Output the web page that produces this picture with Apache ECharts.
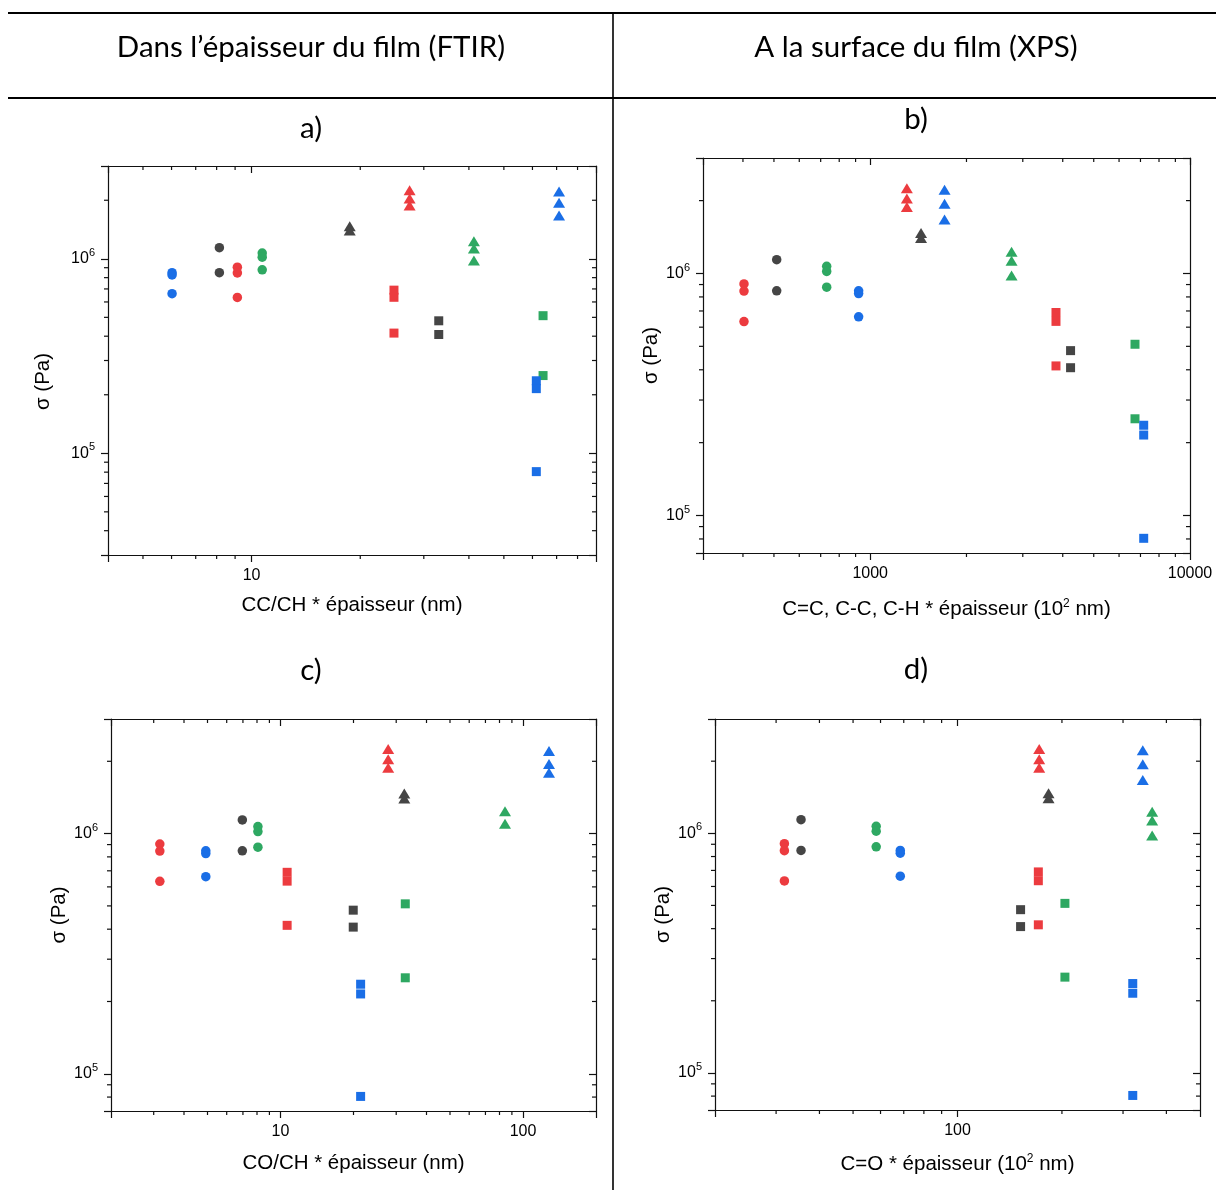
<!DOCTYPE html>
<html>
<head>
<meta charset="utf-8">
<script src="https://cdn.jsdelivr.net/npm/echarts@6/dist/echarts.min.js"></script>
<style>
html,body{margin:0;padding:0;background:#fff;}
#chart{width:1216px;height:1190px;}
</style>
</head>
<body>
<div id="chart"></div>
<script>
// ---------- DATA ----------
// Group order: red●, grey●, green●, blue●, red▲, grey▲, green▲, blue▲, red■, grey■, green■, blue■
const groupOrder = ['redCircle','grayCircle','greenCircle','blueCircle',
                    'redTriangle','grayTriangle','greenTriangle','blueTriangle',
                    'redSquare','graySquare','greenSquare','blueSquare'];

// σ (Pa) per group
const sigmaRedCircle     = [0.905e6, 0.846e6, 0.633e6];
const sigmaGrayCircle    = [1.14e6, 0.848e6];
const sigmaGreenCircle   = [1.07e6, 1.02e6, 0.878e6];
const sigmaBlueCircle    = [0.848e6, 0.826e6, 0.662e6];
const sigmaRedTriangle   = [2.25e6, 2.04e6, 1.88e6];
const sigmaGrayTriangle  = [1.47e6, 1.40e6];
const sigmaGreenTriangle = [1.23e6, 1.13e6, 0.98e6];
const sigmaBlueTriangle  = [2.22e6, 1.94e6, 1.67e6];
const sigmaRedSquare     = [0.69e6, 0.634e6, 0.415e6];
const sigmaGraySquare    = [0.48e6, 0.408e6];
const sigmaGreenSquare   = [0.51e6, 0.251e6];
const sigmaBlueSquare    = [0.236e6, 0.215e6, 0.0805e6];
// panel c shows slightly different triangle values
const sigmaGreenTriangleC = [1.24e6, 1.10e6];
const sigmaBlueTriangleC  = [2.21e6, 1.95e6, 1.79e6];

// x value of each group, per panel (same group order)
const xPanelA = [9.13, 8.14, 10.7, 6.02, 27.4, 18.7, 41.3, 71.1, 24.8, 33.0, 64.2, 61.5];          // CC/CH * épaisseur (nm)
const xPanelB = [403, 510, 731, 920, 1302, 1442, 2767, 1708, 3810, 4232, 6730, 7165];            // C=C, C-C, C-H * épaisseur (10² nm)
const xPanelC = [3.18, 6.96, 8.07, 4.92, 27.8, 32.4, 84.3, 128, 10.65, 19.95, 32.7, 21.4];        // CO/CH * épaisseur (nm)
const xPanelD = [31.7, 35.4, 58.3, 68.4, 172, 183, 364, 342, 171, 152, 204, 320];                  // C=O * épaisseur (10² nm)

// axis ranges
const xRangeA = [4, 90],     yRangeA = [3e4, 3e6];
const xRangeB = [300, 10000], yRangeB = [7e4, 3e6];
const xRangeC = [2, 200],    yRangeC = [7e4, 3e6];
const xRangeD = [20, 500],   yRangeD = [7e4, 3e6];

// minor tick values
const minorXA = [5,6,7,8,9,20,30,40,50,60,70,80];
const minorYA = [4e4,5e4,6e4,7e4,8e4,9e4,2e5,3e5,4e5,5e5,6e5,7e5,8e5,9e5,2e6];
const minorXB = [400,500,600,700,800,900,2000,3000,4000,5000,6000,7000,8000,9000];
const minorYB = [8e4,9e4,2e5,3e5,4e5,5e5,6e5,7e5,8e5,9e5,2e6];
const minorXC = [3,4,5,6,7,8,9,20,30,40,50,60,70,80,90];
const minorYC = minorYB;
const minorXD = [30,40,50,60,70,80,90,200,300,400];
const minorYD = minorYB;

// texts
const headerLeft  = 'Dans l’épaisseur du film (FTIR)';
const headerRight = 'A la surface du film (XPS)';
const panelLetters = ['a)', 'b)', 'c)', 'd)'];
const xTitles = ['CC/CH * épaisseur (nm)',
                 'C=C, C-C, C-H * épaisseur (10{sup|2} nm)',
                 'CO/CH * épaisseur (nm)',
                 'C=O * épaisseur (10{sup|2} nm)'];
const yTitle = 'σ (Pa)';

// ---------- STYLE ----------
const groupColor = {red:'#ec3b3f', gray:'#454545', green:'#2ea862', blue:'#1a6ee6'};
const groupStyle = groupOrder.map(g => {
  const color = g.startsWith('red') ? groupColor.red : g.startsWith('gray') ? groupColor.gray :
                g.startsWith('green') ? groupColor.green : groupColor.blue;
  if (g.endsWith('Circle')) return {color, symbol:'circle', size:9.5};
  if (g.endsWith('Triangle')) return {color, symbol:'triangle', size:[12,10]};
  return {color, symbol:'rect', size:9};
});
const AX = '#111';
const AXF = 'Liberation Sans, Arial, sans-serif';
const TITLEF = 'Lato, sans-serif';
const TITLE_SIZE = 29.5;
const NAME_SIZE = 20.5;
const TICK_SIZE = 16;

const grids = [
  {left:108, top:166, width:488, height:389},
  {left:703, top:158, width:487, height:395},
  {left:111, top:719, width:485, height:392},
  {left:715, top:719, width:485, height:391}
];
const xNameGap = [39, 45, 41, 43];
const yNameGap = [54, 40, 41, 39];
const yNamePad = [[0,42,0,0], [0,0,0,0], [0,0,0,0], [0,0,0,0]];

const xRanges = [xRangeA, xRangeB, xRangeC, xRangeD];
const yRanges = [yRangeA, yRangeB, yRangeC, yRangeD];
const minorXs = [minorXA, minorXB, minorXC, minorXD];
const minorYs = [minorYA, minorYB, minorYC, minorYD];
const xPanels = [xPanelA, xPanelB, xPanelC, xPanelD];
const sigmaShared = [sigmaRedCircle, sigmaGrayCircle, sigmaGreenCircle, sigmaBlueCircle,
                     sigmaRedTriangle, sigmaGrayTriangle, sigmaGreenTriangle, sigmaBlueTriangle,
                     sigmaRedSquare, sigmaGraySquare, sigmaGreenSquare, sigmaBlueSquare];
const sigmaPanelC = sigmaShared.slice();
sigmaPanelC[6] = sigmaGreenTriangleC;
sigmaPanelC[7] = sigmaBlueTriangleC;
const sigmaPanels = [sigmaShared, sigmaShared, sigmaPanelC, sigmaShared];

function isDecade(v){ const l = Math.log10(v); return Math.abs(l - Math.round(l)) < 1e-6; }

const xAxes = [], yAxes = [], series = [];
grids.forEach((g, i) => {
  const lineStyle = {color: AX, width: 1.2};
  xAxes.push({
    type:'log', logBase:10, gridIndex:i, position:'bottom',
    min:xRanges[i][0], max:xRanges[i][1],
    name:xTitles[i], nameLocation:'middle', nameGap:xNameGap[i],
    nameTextStyle:{fontFamily:AXF, fontSize:NAME_SIZE, color:'#000', lineHeight:23,
      rich:{sup:{fontFamily:AXF, fontSize:12, color:'#000', verticalAlign:'top', lineHeight:12}}},
    axisLine:{show:true, onZero:false, lineStyle},
    axisTick:{show:true, inside:false, length:7, lineStyle},
    minorTick:{show:false}, splitLine:{show:false},
    axisLabel:{show:true, margin:13, fontFamily:AXF, fontSize:TICK_SIZE, color:'#000',
      showMinLabel:true, showMaxLabel:true,
      formatter: v => isDecade(v) ? String(Math.round(v)) : ''}
  });
  xAxes.push({
    type:'log', logBase:10, gridIndex:i, position:'top',
    min:xRanges[i][0], max:xRanges[i][1],
    axisLine:{show:true, onZero:false, lineStyle},
    axisTick:{show:true, inside:true, length:7, lineStyle},
    axisLabel:{show:false}, splitLine:{show:false}
  });
  yAxes.push({
    type:'log', logBase:10, gridIndex:i, position:'left',
    min:yRanges[i][0], max:yRanges[i][1],
    name:yTitle, nameLocation:'middle', nameGap:yNameGap[i],
    nameTextStyle:{fontFamily:AXF, fontSize:NAME_SIZE, color:'#000', padding:yNamePad[i]},
    axisLine:{show:true, onZero:false, lineStyle},
    axisTick:{show:true, inside:false, length:7, lineStyle},
    minorTick:{show:false}, splitLine:{show:false},
    axisLabel:{show:true, margin:13, color:'#000',
      formatter: v => isDecade(v) ? '{b|10}{s|' + Math.round(Math.log10(v)) + '}' : '',
      rich:{b:{fontFamily:AXF, fontSize:TICK_SIZE, color:'#000', lineHeight:23},
            s:{fontFamily:AXF, fontSize:11, color:'#000', verticalAlign:'top', lineHeight:12}}}
  });
  yAxes.push({
    type:'log', logBase:10, gridIndex:i, position:'right',
    min:yRanges[i][0], max:yRanges[i][1],
    axisLine:{show:true, onZero:false, lineStyle},
    axisTick:{show:true, inside:true, length:7, lineStyle},
    axisLabel:{show:false}, splitLine:{show:false}
  });

  // minor ticks (drawn through the axes' scales)
  series.push({
    type:'custom', xAxisIndex:2*i, yAxisIndex:2*i, silent:true, clip:false, z:1,
    data: minorXs[i].map(v => [v, yRanges[i][0]]),
    renderItem: (params, api) => {
      const cs = params.coordSys;
      const p = api.coord([api.value(0), api.value(1)]);
      const st = {stroke: AX, lineWidth: 1.2};
      return {type:'group', children:[
        {type:'line', shape:{x1:p[0], y1:cs.y+cs.height, x2:p[0], y2:cs.y+cs.height+4}, style:st},
        {type:'line', shape:{x1:p[0], y1:cs.y, x2:p[0], y2:cs.y+4}, style:st}
      ]};
    }
  });
  series.push({
    type:'custom', xAxisIndex:2*i, yAxisIndex:2*i, silent:true, clip:false, z:1,
    data: minorYs[i].map(v => [xRanges[i][0], v]),
    renderItem: (params, api) => {
      const cs = params.coordSys;
      const p = api.coord([api.value(0), api.value(1)]);
      const st = {stroke: AX, lineWidth: 1.2};
      return {type:'group', children:[
        {type:'line', shape:{x1:cs.x-4, y1:p[1], x2:cs.x, y2:p[1]}, style:st},
        {type:'line', shape:{x1:cs.x+cs.width-4, y1:p[1], x2:cs.x+cs.width, y2:p[1]}, style:st}
      ]};
    }
  });

  groupOrder.forEach((name, k) => {
    const s = groupStyle[k];
    series.push({
      type:'scatter', name: name, xAxisIndex:2*i, yAxisIndex:2*i,
      symbol:s.symbol, symbolSize:s.size,
      itemStyle:{color:s.color, opacity:1},
      data: sigmaPanels[i][k].map(v => [xPanels[i][k], v]),
      z:3
    });
  });
});

function titleText(x, y, text){
  return {type:'text', x, y, style:{text, fontFamily:TITLEF, fontSize:TITLE_SIZE, fill:'#000', align:'center', verticalAlign:'middle'}};
}
const graphics = [
  {type:'line', shape:{x1:8, y1:13, x2:1216, y2:13}, style:{stroke:'#000', lineWidth:2.2}},
  {type:'line', shape:{x1:8, y1:98, x2:1216, y2:98}, style:{stroke:'#000', lineWidth:2.2}},
  {type:'line', shape:{x1:613, y1:13, x2:613, y2:1190}, style:{stroke:'#000', lineWidth:1.6}},
  titleText(311, 47, headerLeft),
  titleText(916, 47, headerRight),
  titleText(311, 128, panelLetters[0]),
  titleText(916, 119, panelLetters[1]),
  titleText(311, 670, panelLetters[2]),
  titleText(916, 669, panelLetters[3])
];

const chart = echarts.init(document.getElementById('chart'), null, {renderer:'canvas'});
chart.setOption({
  backgroundColor:'#fff',
  animation:false,
  grid: grids.map(g => Object.assign({containLabel:false}, g)),
  xAxis: xAxes,
  yAxis: yAxes,
  series: series,
  graphic: graphics
});
</script>
</body>
</html>
